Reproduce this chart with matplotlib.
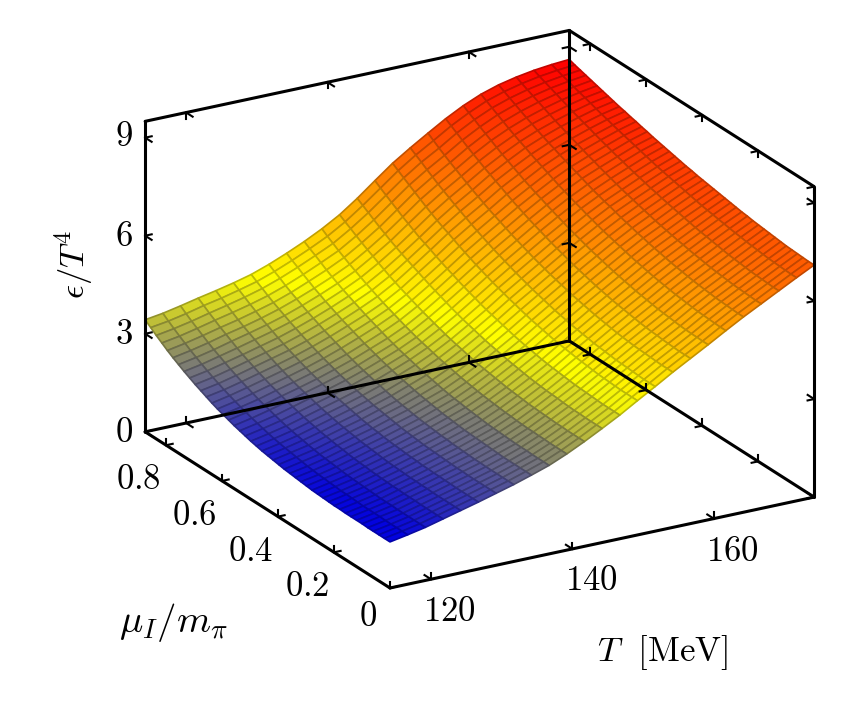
import numpy as np
import matplotlib
matplotlib.use("Agg")
import matplotlib.pyplot as plt
from matplotlib.colors import LinearSegmentedColormap, Normalize
from mpl_toolkits.mplot3d import proj3d

plt.rcParams["mathtext.fontset"] = "cm"

T_range = (114.2, 174.2)
mu_range = (0.0, 0.875)
eps_range = (0.0, 9.5)

T_ticks = [120, 140, 160]
mu_ticks = [0, 0.2, 0.4, 0.6, 0.8]
eps_ticks = [0, 3, 6, 9]

T_grid = np.linspace(T_range[0], T_range[1], 25)
mu_grid = np.linspace(mu_range[0], mu_range[1], 45)

# one list per temperature, mu_I rising from 0 to the end of the axis
eps_read = [
    [1.39,1.39,1.39,1.39,1.39,1.40,1.40,1.40,1.40,1.41,1.41,1.42,1.43,1.44,1.45,1.47,1.49,1.51,1.53,1.55,1.58,1.61,1.64,1.67,1.71,1.75,1.80,1.85,1.90,1.96,2.02,2.08,2.15,2.23,2.31,2.39,2.48,2.57,2.67,2.77,2.88,3.00,3.12,3.25,3.38],
    [1.49,1.49,1.49,1.49,1.49,1.50,1.50,1.50,1.50,1.51,1.52,1.53,1.53,1.55,1.56,1.58,1.59,1.61,1.63,1.66,1.69,1.72,1.75,1.78,1.82,1.86,1.91,1.96,2.01,2.07,2.13,2.19,2.26,2.33,2.41,2.49,2.58,2.67,2.77,2.87,2.98,3.09,3.21,3.33,3.46],
    [1.60,1.60,1.60,1.60,1.60,1.60,1.61,1.61,1.61,1.62,1.63,1.64,1.65,1.66,1.67,1.69,1.71,1.73,1.75,1.77,1.80,1.83,1.87,1.90,1.94,1.98,2.03,2.08,2.14,2.19,2.25,2.32,2.39,2.46,2.54,2.62,2.71,2.80,2.89,2.99,3.10,3.21,3.32,3.44,3.57],
    [1.74,1.74,1.74,1.74,1.74,1.75,1.75,1.75,1.76,1.76,1.77,1.78,1.79,1.80,1.82,1.83,1.85,1.87,1.90,1.92,1.95,1.98,2.01,2.05,2.09,2.13,2.18,2.23,2.28,2.34,2.40,2.46,2.53,2.60,2.68,2.76,2.84,2.93,3.03,3.13,3.23,3.34,3.45,3.57,3.69],
    [1.88,1.88,1.88,1.88,1.88,1.88,1.89,1.89,1.90,1.90,1.91,1.92,1.93,1.94,1.96,1.98,2.00,2.02,2.04,2.07,2.10,2.13,2.16,2.20,2.24,2.28,2.33,2.38,2.43,2.48,2.54,2.60,2.67,2.74,2.82,2.90,2.98,3.07,3.16,3.25,3.35,3.46,3.57,3.68,3.80],
    [2.02,2.02,2.02,2.02,2.02,2.03,2.03,2.04,2.04,2.05,2.05,2.07,2.08,2.09,2.11,2.12,2.14,2.16,2.19,2.21,2.24,2.27,2.31,2.35,2.39,2.43,2.48,2.53,2.58,2.63,2.69,2.75,2.82,2.89,2.96,3.04,3.12,3.21,3.30,3.39,3.49,3.59,3.70,3.81,3.92],
    [2.17,2.17,2.17,2.17,2.17,2.17,2.18,2.18,2.19,2.20,2.21,2.22,2.23,2.24,2.26,2.28,2.30,2.32,2.35,2.38,2.41,2.44,2.47,2.51,2.55,2.59,2.64,2.69,2.74,2.80,2.86,2.92,2.99,3.06,3.13,3.21,3.29,3.37,3.46,3.55,3.64,3.74,3.85,3.95,4.06],
    [2.32,2.32,2.32,2.32,2.32,2.32,2.33,2.33,2.34,2.35,2.36,2.37,2.39,2.40,2.42,2.44,2.46,2.48,2.51,2.54,2.57,2.60,2.64,2.68,2.73,2.77,2.82,2.87,2.92,2.98,3.04,3.11,3.18,3.25,3.32,3.40,3.48,3.56,3.65,3.74,3.83,3.93,4.04,4.14,4.25],
    [2.49,2.49,2.49,2.49,2.49,2.49,2.50,2.51,2.52,2.53,2.54,2.55,2.56,2.58,2.60,2.62,2.64,2.67,2.70,2.73,2.76,2.80,2.84,2.88,2.92,2.97,3.02,3.07,3.13,3.19,3.25,3.32,3.39,3.46,3.53,3.61,3.69,3.77,3.86,3.95,4.05,4.15,4.26,4.36,4.47],
    [2.67,2.67,2.67,2.67,2.68,2.68,2.68,2.69,2.70,2.71,2.72,2.73,2.75,2.77,2.79,2.81,2.84,2.86,2.89,2.92,2.96,3.00,3.04,3.08,3.13,3.18,3.23,3.28,3.34,3.40,3.47,3.54,3.61,3.68,3.76,3.84,3.92,4.00,4.09,4.18,4.28,4.39,4.50,4.60,4.71],
    [2.90,2.90,2.90,2.90,2.91,2.91,2.92,2.92,2.93,2.94,2.96,2.97,2.99,3.01,3.03,3.05,3.08,3.11,3.14,3.17,3.21,3.25,3.29,3.33,3.38,3.43,3.48,3.53,3.59,3.65,3.72,3.79,3.86,3.93,4.01,4.09,4.17,4.26,4.35,4.44,4.54,4.64,4.75,4.86,4.98],
    [3.16,3.16,3.16,3.16,3.17,3.17,3.18,3.19,3.20,3.21,3.22,3.24,3.26,3.28,3.30,3.33,3.36,3.39,3.42,3.45,3.49,3.53,3.58,3.62,3.67,3.72,3.78,3.84,3.90,3.96,4.03,4.10,4.17,4.24,4.32,4.40,4.49,4.58,4.68,4.77,4.87,4.97,5.08,5.18,5.29],
    [3.44,3.44,3.44,3.44,3.45,3.45,3.46,3.47,3.49,3.50,3.51,3.53,3.55,3.57,3.60,3.63,3.66,3.69,3.73,3.77,3.81,3.85,3.90,3.95,4.00,4.05,4.11,4.17,4.24,4.31,4.38,4.45,4.53,4.61,4.69,4.77,4.85,4.94,5.03,5.13,5.23,5.34,5.45,5.56,5.67],
    [3.73,3.73,3.73,3.73,3.74,3.75,3.76,3.77,3.78,3.80,3.82,3.84,3.86,3.88,3.91,3.94,3.98,4.01,4.05,4.09,4.14,4.19,4.24,4.29,4.34,4.40,4.47,4.53,4.60,4.67,4.75,4.82,4.90,4.98,5.07,5.15,5.23,5.33,5.43,5.53,5.64,5.75,5.86,5.97,6.09],
    [4.05,4.05,4.05,4.05,4.06,4.07,4.08,4.09,4.11,4.13,4.15,4.17,4.20,4.22,4.25,4.28,4.32,4.36,4.40,4.44,4.49,4.54,4.60,4.65,4.71,4.77,4.83,4.90,4.97,5.04,5.12,5.20,5.28,5.37,5.46,5.54,5.63,5.73,5.83,5.94,6.05,6.16,6.27,6.38,6.50],
    [4.36,4.36,4.36,4.37,4.38,4.39,4.40,4.41,4.43,4.45,4.47,4.49,4.52,4.55,4.58,4.61,4.65,4.69,4.73,4.78,4.83,4.88,4.93,4.99,5.05,5.11,5.18,5.25,5.32,5.39,5.47,5.55,5.63,5.72,5.81,5.90,5.99,6.09,6.19,6.29,6.40,6.51,6.63,6.74,6.85],
    [4.68,4.68,4.68,4.69,4.70,4.71,4.72,4.73,4.75,4.77,4.79,4.82,4.85,4.88,4.91,4.95,4.99,5.03,5.07,5.12,5.17,5.22,5.27,5.33,5.39,5.45,5.52,5.59,5.66,5.73,5.81,5.89,5.97,6.05,6.14,6.23,6.32,6.42,6.52,6.62,6.72,6.83,6.94,7.06,7.18],
    [4.98,4.98,4.98,4.99,5.00,5.01,5.03,5.04,5.06,5.08,5.11,5.14,5.17,5.20,5.23,5.27,5.31,5.35,5.40,5.45,5.50,5.55,5.61,5.67,5.73,5.79,5.86,5.93,6.00,6.07,6.15,6.23,6.31,6.40,6.49,6.58,6.67,6.76,6.86,6.96,7.06,7.17,7.28,7.39,7.50],
    [5.28,5.28,5.29,5.29,5.30,5.31,5.33,5.35,5.37,5.39,5.42,5.45,5.48,5.51,5.55,5.59,5.63,5.67,5.72,5.77,5.82,5.87,5.93,5.99,6.05,6.11,6.18,6.25,6.32,6.39,6.47,6.54,6.62,6.70,6.79,6.88,6.97,7.06,7.16,7.26,7.36,7.46,7.57,7.67,7.78],
    [5.59,5.59,5.60,5.61,5.62,5.63,5.65,5.67,5.69,5.71,5.74,5.77,5.80,5.83,5.87,5.91,5.95,5.99,6.04,6.09,6.14,6.19,6.24,6.30,6.36,6.42,6.49,6.55,6.62,6.69,6.76,6.84,6.92,7.00,7.08,7.16,7.25,7.33,7.42,7.51,7.61,7.71,7.81,7.91,8.01],
    [5.89,5.89,5.90,5.91,5.92,5.93,5.95,5.97,5.99,6.01,6.04,6.07,6.10,6.13,6.17,6.21,6.25,6.29,6.34,6.38,6.43,6.48,6.53,6.59,6.65,6.70,6.76,6.82,6.89,6.96,7.03,7.10,7.17,7.24,7.32,7.39,7.47,7.55,7.64,7.72,7.81,7.90,7.99,8.08,8.18],
    [6.17,6.17,6.18,6.19,6.20,6.21,6.23,6.25,6.27,6.29,6.32,6.35,6.38,6.41,6.45,6.48,6.52,6.56,6.60,6.64,6.69,6.74,6.79,6.84,6.89,6.94,7.00,7.06,7.12,7.18,7.25,7.31,7.38,7.45,7.52,7.59,7.66,7.73,7.81,7.89,7.97,8.05,8.13,8.21,8.30],
    [6.45,6.45,6.46,6.47,6.48,6.49,6.51,6.53,6.55,6.57,6.60,6.63,6.66,6.69,6.72,6.75,6.79,6.83,6.87,6.91,6.95,6.99,7.04,7.08,7.13,7.18,7.23,7.28,7.34,7.39,7.45,7.51,7.57,7.63,7.70,7.76,7.82,7.89,7.96,8.03,8.10,8.17,8.24,8.31,8.39],
    [6.73,6.73,6.74,6.75,6.76,6.77,6.79,6.81,6.83,6.85,6.88,6.90,6.93,6.96,6.99,7.02,7.05,7.08,7.12,7.16,7.20,7.24,7.28,7.32,7.36,7.40,7.45,7.50,7.55,7.60,7.65,7.70,7.75,7.80,7.86,7.91,7.97,8.03,8.09,8.14,8.20,8.26,8.32,8.38,8.45],
    [7.00,7.00,7.01,7.02,7.03,7.04,7.06,7.08,7.10,7.12,7.14,7.16,7.19,7.21,7.24,7.27,7.30,7.33,7.36,7.39,7.42,7.45,7.49,7.52,7.56,7.60,7.64,7.68,7.72,7.76,7.81,7.85,7.90,7.94,7.99,8.03,8.08,8.13,8.18,8.23,8.28,8.33,8.38,8.43,8.49],
]

# heights above were read at 33.1 px per unit, the axis itself has 32.63
eps = np.array(eps_read) * 1.0144

fig = plt.figure(figsize=(8.47, 7.15), dpi=100)
ax = fig.add_axes([0, 0, 1, 1], projection="3d", computed_zorder=False)
ax.set_proj_type("ortho")
ax.view_init(elev=21.7, azim=-120.1)
ax.set_xlim(*T_range)
ax.set_ylim(*mu_range)
ax.set_zlim(*eps_range)
ax.set_axis_off()
ax.set_box_aspect((490, 488, 334))

# surface
palette = LinearSegmentedColormap.from_list(
    "blue_yellow_red", [(0.0, "#0000e0"), (0.367, "#ffff00"), (1.0, "#ff0000")]
)
norm = Normalize(eps.min(), eps.max())
cells = (eps[:-1, :-1] + eps[1:, :-1] + eps[:-1, 1:] + eps[1:, 1:]) / 4
cell_colors = palette(norm(cells))
edge_colors = cell_colors.copy()
edge_colors[..., :3] *= 0.76

TT, MM = np.meshgrid(T_grid, mu_grid, indexing="ij")
surf = ax.plot_surface(
    TT, MM, eps, rstride=1, cstride=1, facecolors=cell_colors,
    shade=False, linewidth=1.2, zorder=1,
)
surf.set_edgecolor(edge_colors.reshape(-1, 4))

# box
t0, t1 = T_range
m0, m1 = mu_range
z0, z1 = eps_range
box_edges = [
    ((t0, m0, z0), (t1, m0, z0)),
    ((t0, m0, z0), (t0, m1, z0)),
    ((t0, m1, z0), (t1, m1, z0)),
    ((t1, m0, z0), (t1, m1, z0)),
    ((t0, m1, z1), (t1, m1, z1)),
    ((t1, m0, z1), (t1, m1, z1)),
    ((t0, m1, z0), (t0, m1, z1)),
    ((t1, m1, z0), (t1, m1, z1)),
    ((t1, m0, z0), (t1, m0, z1)),
]
for a, b in box_edges:
    ax.plot(*zip(a, b), color="black", lw=2.2, zorder=3, solid_capstyle="round")


def draw_tick(point, steps):
    for step in steps:
        end = [p + s for p, s in zip(point, step)]
        ax.plot(*zip(point, end), color="black", lw=1.5, zorder=3)


tick_T = 0.93
tick_mu = 0.0232
tick_z = 0.19

for t in T_ticks:
    draw_tick((t, m0, z0), [(0, tick_mu, 0), (0, 0, tick_z)])
    draw_tick((t, m1, z0), [(0, -tick_mu, 0), (0, 0, tick_z)])
    draw_tick((t, m1, z1), [(0, -tick_mu, 0), (0, 0, -tick_z)])
for m in mu_ticks:
    draw_tick((t0, m, z0), [(tick_T, 0, 0), (0, 0, tick_z)])
    draw_tick((t1, m, z0), [(-tick_T, 0, 0), (0, 0, tick_z)])
    draw_tick((t1, m, z1), [(-tick_T, 0, 0), (0, 0, -tick_z)])
for e in eps_ticks:
    draw_tick((t0, m1, e), [(tick_T, 0, 0), (0, -tick_mu, 0)])
    draw_tick((t1, m1, e), [(-tick_T, 0, 0), (0, -tick_mu, 0)])
    draw_tick((t1, m0, e), [(-tick_T, 0, 0), (0, tick_mu, 0)])


def corner_px(t, m, z):
    x, y, _ = proj3d.proj_transform(t, m, z, ax.get_proj())
    return ax.transData.transform((x, y))


# fit the box onto the picture: left corner at x 145, right at x 814, bottom at y 588
fig.canvas.draw()
width = corner_px(t1, m0, z0)[0] - corner_px(t0, m1, z0)[0]
ax.set_box_aspect((490, 488, 334), zoom=669 / width)
fig.canvas.draw()
front = corner_px(t0, m0, z0)
ax.set_position([(390 - front[0]) / 847, ((715 - 588) - front[1]) / 715, 1, 1])


def put_text(x, y, s, size=25, **kw):
    fig.text(x / 847, 1 - y / 715, s, fontsize=size, ha="center", va="center", **kw)


for label, y in zip(["0", "3", "6", "9"], [432, 334, 236, 136]):
    put_text(124, y, f"${label}$")
for label, x, y in [("0", 368, 616), ("0.2", 307, 586), ("0.4", 251, 551), ("0.6", 194, 515), ("0.8", 138, 479)]:
    put_text(x, y, f"${label}$")
for label, x, y in [("120", 449, 611), ("140", 591, 580), ("160", 732, 551)]:
    put_text(x, y, f"${label}$")

put_text(662, 653, r"$T\ \ [\mathrm{MeV}]$")
put_text(173, 623, r"$\mu_I/m_\pi$", size=28)
put_text(74, 264, r"$\epsilon/T^4$", rotation=90)

fig.savefig("out.png", dpi=100)
